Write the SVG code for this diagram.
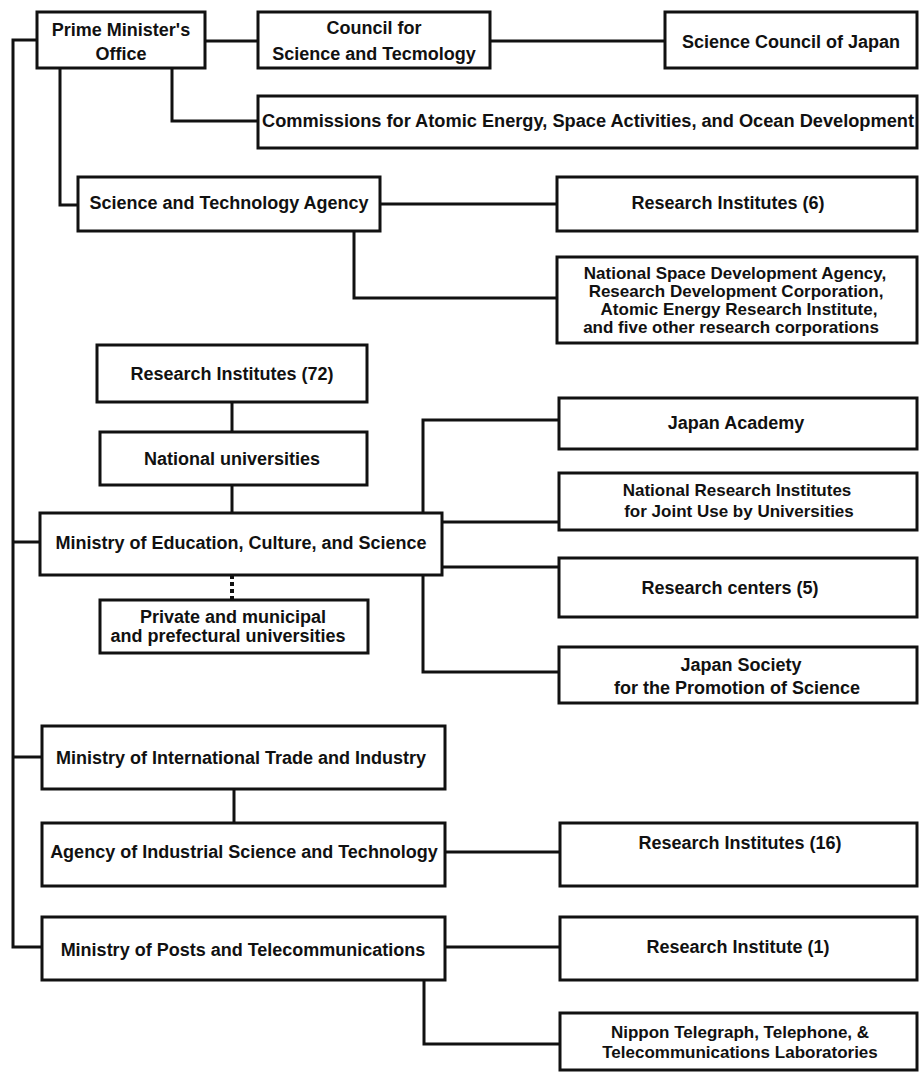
<svg xmlns="http://www.w3.org/2000/svg" width="920" height="1073" viewBox="0 0 920 1073">
<style>
.b{fill:#fff;stroke:#111;stroke-width:3}
.c{fill:none;stroke:#111;stroke-width:3}
.d{fill:none;stroke:#111;stroke-width:4;stroke-dasharray:4 3}
text{font-family:"Liberation Sans",Arial,sans-serif;font-weight:bold;font-size:18px;fill:#111;text-anchor:middle;dominant-baseline:central}
.s{font-size:17px}
</style>
<rect width="920" height="1073" fill="#fff"/>
<g id="connectors">
<path class="c" d="M37,40 H13 V947 H42"/>
<path class="c" d="M13,542 H40"/>
<path class="c" d="M13,757 H42"/>
<path class="c" d="M205,41 H258"/>
<path class="c" d="M490,41 H665"/>
<path class="c" d="M172,68 V121 H258"/>
<path class="c" d="M60,68 V205 H78"/>
<path class="c" d="M380,204 H557"/>
<path class="c" d="M354,231 V298 H557"/>
<path class="c" d="M232,402 V432"/>
<path class="c" d="M232,485 V513"/>
<path class="d" d="M232,575 V600"/>
<path class="c" d="M559,420 H423 V672 H559"/>
<path class="c" d="M442,522 H559"/>
<path class="c" d="M442,567 H559"/>
<path class="c" d="M234,789 V823"/>
<path class="c" d="M445,852 H560"/>
<path class="c" d="M445,947 H560"/>
<path class="c" d="M424,980 V1044 H560"/>
</g>
<g id="pmo"><rect class="b" x="37" y="12" width="168" height="56"/><text x="121" y="30">Prime Minister's</text><text x="121" y="54">Office</text></g>
<g id="cst"><rect class="b" x="258" y="12" width="232" height="56"/><text x="374" y="28">Council for</text><text x="374" y="54">Science and Tecmology</text></g>
<g id="scj"><rect class="b" x="665" y="12" width="252" height="56"/><text x="791" y="42">Science Council of Japan</text></g>
<g id="com"><rect class="b" x="258" y="96" width="659" height="52"/><text x="588" y="121" textLength="652" lengthAdjust="spacingAndGlyphs">Commissions for Atomic Energy, Space Activities, and Ocean Development</text></g>
<g id="sta"><rect class="b" x="78" y="177" width="302" height="54"/><text x="229" y="203">Science and Technology Agency</text></g>
<g id="ri6"><rect class="b" x="557" y="177" width="360" height="54"/><text x="728" y="203">Research Institutes (6)</text></g>
<g id="nsda"><rect class="b" x="557" y="257" width="360" height="86"/><text class="s" x="735" y="273">National Space Development Agency,</text><text class="s" x="736" y="291">Research Development Corporation,</text><text class="s" x="739" y="309">Atomic Energy Research Institute,</text><text class="s" x="731" y="327">and five other research corporations</text></g>
<g id="ri72"><rect class="b" x="97" y="345" width="270" height="57"/><text x="232" y="374">Research Institutes (72)</text></g>
<g id="nu"><rect class="b" x="100" y="432" width="267" height="53"/><text x="232" y="459">National universities</text></g>
<g id="mecs"><rect class="b" x="40" y="513" width="402" height="62"/><text x="241" y="543">Ministry of Education, Culture, and Science</text></g>
<g id="priv"><rect class="b" x="100" y="600" width="268" height="53"/><text x="233" y="617">Private and municipal</text><text x="228" y="636">and prefectural universities</text></g>
<g id="ja"><rect class="b" x="559" y="398" width="358" height="51"/><text x="736" y="423">Japan Academy</text></g>
<g id="nriju"><rect class="b" x="559" y="473" width="358" height="57"/><text class="s" x="737" y="490">National Research Institutes</text><text class="s" x="739" y="511">for Joint Use by Universities</text></g>
<g id="rc5"><rect class="b" x="559" y="558" width="358" height="59"/><text x="730" y="588">Research centers (5)</text></g>
<g id="jsps"><rect class="b" x="559" y="647" width="358" height="56"/><text x="741" y="665">Japan Society</text><text x="737" y="688">for the Promotion of Science</text></g>
<g id="miti"><rect class="b" x="42" y="726" width="403" height="63"/><text x="241" y="758">Ministry of International Trade and Industry</text></g>
<g id="aist"><rect class="b" x="42" y="823" width="403" height="63"/><text x="244" y="852">Agency of Industrial Science and Technology</text></g>
<g id="ri16"><rect class="b" x="560" y="823" width="357" height="63"/><text x="740" y="843">Research Institutes (16)</text></g>
<g id="mpt"><rect class="b" x="42" y="917" width="403" height="63"/><text x="243" y="950">Ministry of Posts and Telecommunications</text></g>
<g id="ri1"><rect class="b" x="560" y="917" width="357" height="63"/><text x="738" y="947">Research Institute (1)</text></g>
<g id="ntt"><rect class="b" x="560" y="1013" width="357" height="57"/><text class="s" x="740" y="1032">Nippon Telegraph, Telephone, &amp;</text><text class="s" x="740" y="1052">Telecommunications Laboratories</text></g>
</svg>
